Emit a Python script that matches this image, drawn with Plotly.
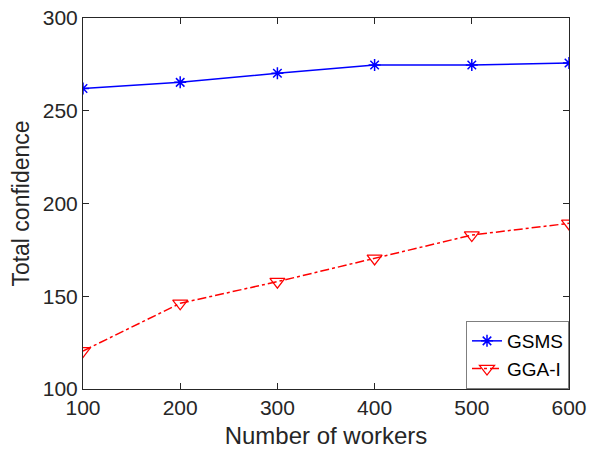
import plotly.graph_objects as go

workers = [100, 200, 300, 400, 500, 600]
gsms = [262, 265.3, 270.2, 274.7, 274.7, 275.7]
gga_i = [120.5, 146.2, 157.9, 170.4, 183.0, 189.3]

FONT = "Liberation Sans, Arial, Helvetica"

fig = go.Figure()
fig.add_trace(go.Scatter(
    x=workers, y=gsms, name="GSMS", mode="lines+markers",
    line=dict(color="#0000FF", width=1.5),
    marker=dict(symbol="asterisk-open", size=10, color="#0000FF",
                line=dict(color="#0000FF", width=1.5)),
))
fig.add_trace(go.Scatter(
    x=workers, y=gga_i, name="GGA-I", mode="lines+markers",
    line=dict(color="#FF0000", width=1.5, dash="dashdot"),
    marker=dict(symbol="triangle-down-open", size=13, color="#FF0000",
                line=dict(color="#FF0000", width=1.3)),
))

axis_common = dict(
    showgrid=False, zeroline=False, showline=True, linecolor="#262626",
    linewidth=1, mirror="ticks", ticks="inside", ticklen=6, automargin=False,
    tickcolor="#262626", tickfont=dict(family=FONT, size=21, color="#262626"),
)
fig.update_xaxes(range=[100, 600], tickvals=[100, 200, 300, 400, 500, 600],
                 title=dict(text="Number of workers", standoff=11,
                            font=dict(family=FONT, size=24, color="#262626")),
                 **axis_common)
fig.update_yaxes(range=[100, 300], tickvals=[100, 150, 200, 250, 300],
                 title=dict(text="Total confidence", standoff=6,
                            font=dict(family=FONT, size=23, color="#262626")),
                 **axis_common)

fig.update_layout(
    width=589, height=449,
    margin=dict(l=83, r=20, t=18, b=60),
    paper_bgcolor="white", plot_bgcolor="white",
    showlegend=True,
    legend=dict(x=1, y=0, xanchor="right", yanchor="bottom",
                bordercolor="#7f7f7f", borderwidth=1, bgcolor="white",
                font=dict(family=FONT, size=19, color="black"),
                tracegroupgap=0, itemwidth=30),
)

fig.write_html("out.html")
